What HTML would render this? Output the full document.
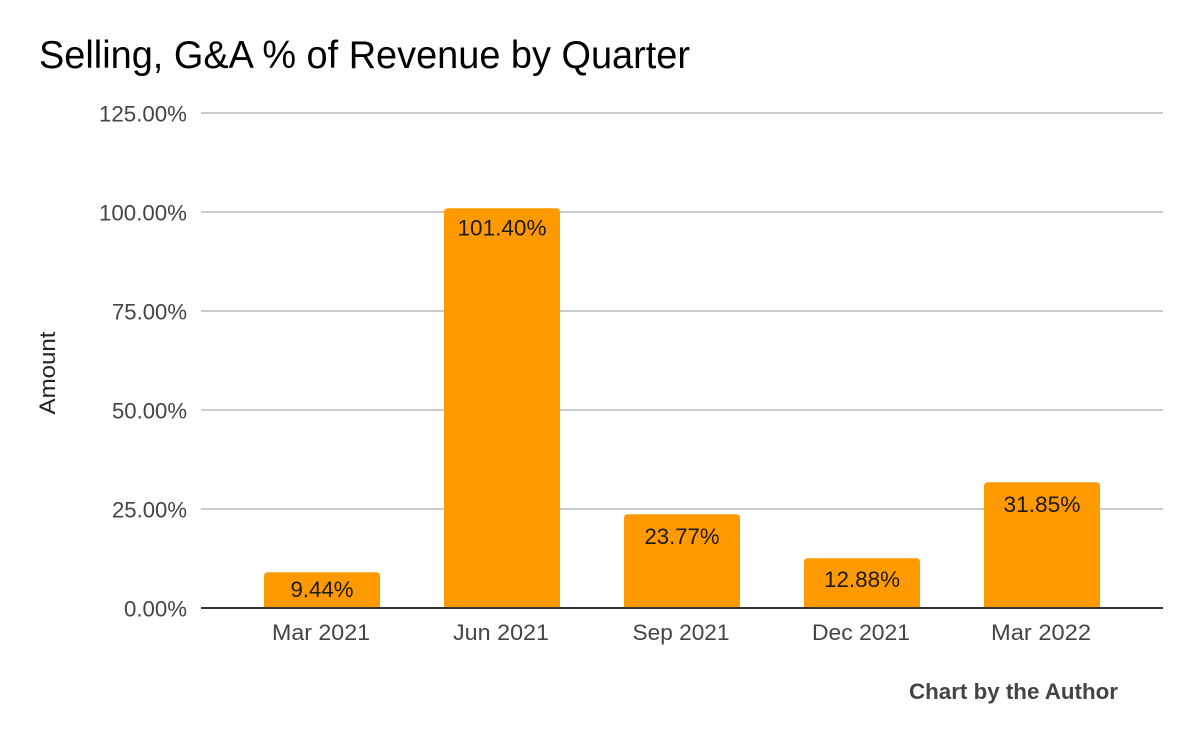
<!DOCTYPE html>
<html>
<head>
<meta charset="utf-8">
<style>
  html, body { margin: 0; padding: 0; background: #ffffff; }
  svg { display: block; }
  text { font-family: "Liberation Sans", Arial, sans-serif; }
</style>
</head>
<body>
<svg width="1199" height="742" viewBox="0 0 1199 742" xmlns="http://www.w3.org/2000/svg">
  <rect x="0" y="0" width="1199" height="742" fill="#ffffff"/>

  <!-- Title -->
  <text x="39" y="68" font-size="38.5" fill="#000000" textLength="651" lengthAdjust="spacingAndGlyphs">Selling, G&amp;A % of Revenue by Quarter</text>

  <!-- Gridlines -->
  <g stroke="#cccccc" stroke-width="2">
    <line x1="201" y1="113" x2="1163" y2="113"/>
    <line x1="201" y1="212" x2="1163" y2="212"/>
    <line x1="201" y1="311" x2="1163" y2="311"/>
    <line x1="201" y1="410" x2="1163" y2="410"/>
    <line x1="201" y1="509" x2="1163" y2="509"/>
  </g>

  <!-- Y axis labels -->
  <g font-size="22.5" fill="#444444" text-anchor="end">
    <text x="187" y="121.5" textLength="88" lengthAdjust="spacingAndGlyphs">125.00%</text>
    <text x="187" y="220.5" textLength="88" lengthAdjust="spacingAndGlyphs">100.00%</text>
    <text x="187" y="319.5" textLength="75" lengthAdjust="spacingAndGlyphs">75.00%</text>
    <text x="187" y="418.5" textLength="75" lengthAdjust="spacingAndGlyphs">50.00%</text>
    <text x="187" y="517.5" textLength="75" lengthAdjust="spacingAndGlyphs">25.00%</text>
    <text x="187" y="616.5" textLength="63" lengthAdjust="spacingAndGlyphs">0.00%</text>
  </g>

  <!-- Y axis title -->
  <text transform="translate(55,373) rotate(-90)" text-anchor="middle" font-size="22.5" fill="#222222" textLength="83" lengthAdjust="spacingAndGlyphs">Amount</text>

  <!-- Bars -->
  <g fill="#ff9900">
    <path d="M264,608 V576.3 Q264,572.3 268,572.3 H376 Q380,572.3 380,576.3 V608 Z"/>
    <path d="M444,608 V212.3 Q444,208.3 448,208.3 H556 Q560,208.3 560,212.3 V608 Z"/>
    <path d="M624,608 V518.3 Q624,514.3 628,514.3 H736 Q740,514.3 740,518.3 V608 Z"/>
    <path d="M804,608 V562.3 Q804,558.3 808,558.3 H916 Q920,558.3 920,562.3 V608 Z"/>
    <path d="M984,608 V486.3 Q984,482.3 988,482.3 H1096 Q1100,482.3 1100,486.3 V608 Z"/>
  </g>

  <!-- Axis line -->
  <line x1="201" y1="608" x2="1163" y2="608" stroke="#333333" stroke-width="2"/>

  <!-- Bar value labels -->
  <g font-size="22" fill="#1a1a1a" text-anchor="middle">
    <text x="322" y="597" textLength="63" lengthAdjust="spacingAndGlyphs">9.44%</text>
    <text x="502" y="235.5" textLength="89" lengthAdjust="spacingAndGlyphs">101.40%</text>
    <text x="682" y="544" textLength="75" lengthAdjust="spacingAndGlyphs">23.77%</text>
    <text x="862" y="587" textLength="76" lengthAdjust="spacingAndGlyphs">12.88%</text>
    <text x="1042" y="512" textLength="77" lengthAdjust="spacingAndGlyphs">31.85%</text>
  </g>

  <!-- X axis labels -->
  <g font-size="22.5" fill="#444444" text-anchor="middle">
    <text x="321" y="640" textLength="98" lengthAdjust="spacingAndGlyphs">Mar 2021</text>
    <text x="501" y="640" textLength="96" lengthAdjust="spacingAndGlyphs">Jun 2021</text>
    <text x="681" y="640" textLength="97" lengthAdjust="spacingAndGlyphs">Sep 2021</text>
    <text x="861" y="640" textLength="98" lengthAdjust="spacingAndGlyphs">Dec 2021</text>
    <text x="1041" y="640" textLength="100" lengthAdjust="spacingAndGlyphs">Mar 2022</text>
  </g>

  <!-- Footer -->
  <text x="909" y="699" font-size="22.5" font-weight="bold" fill="#444444" textLength="209" lengthAdjust="spacingAndGlyphs">Chart by the Author</text>
</svg>
</body>
</html>
